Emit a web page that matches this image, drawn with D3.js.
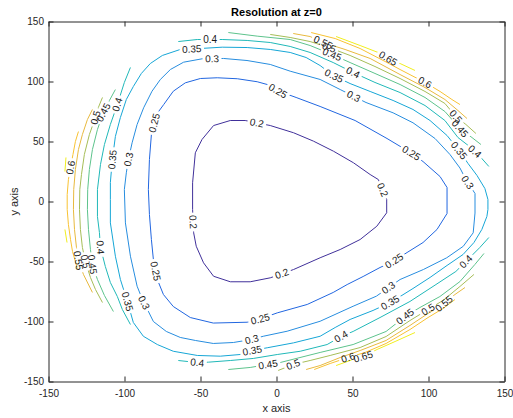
<!DOCTYPE html>
<html>
<head>
<meta charset="utf-8">
<script src="https://cdn.jsdelivr.net/npm/d3@7"></script>
<style>
  body { margin: 0; background: #fff; }
  svg text { font-family: "Liberation Sans", Arial, Helvetica, sans-serif; }
</style>
</head>
<body>
<svg id="chart" width="513" height="418"></svg>
<script>
// Contour levels of the resolution map
const levels = [0.2, 0.25, 0.3, 0.35, 0.4, 0.45, 0.5, 0.55, 0.6, 0.65];
const xTicks = [-150, -100, -50, 0, 50, 100, 150];
const yTicks = [-150, -100, -50, 0, 50, 100, 150];

// Contour polylines per level, points as [x, y] in axis units
const line020 = [[[-55.2,-6.7],[-55.2,15.6],[-53.4,40.6],[-49.0,51.7],[-41.4,63.3],[-30.4,67.5],[-20.6,67.5],[-4.1,63.3],[11.2,57.3],[24.3,50.3],[37.5,41.9],[50.6,32.3],[61.6,22.5],[67.0,18.3],[72.5,1.7],[72.5,-9.4],[66.0,-20.6],[55.0,-31.7],[41.9,-40.0],[28.7,-46.9],[11.2,-56.7],[-4.1,-63.6],[-17.3,-66.9],[-30.4,-66.9],[-41.4,-62.3],[-48.0,-51.1],[-52.8,-37.3],[-54.5,-26.1],[-55.2,-6.7]]];

const line025 = [[[-74.2,80.8],[-79.0,72.5],[-82.3,55.8],[-83.6,35.0],[-84.3,10.0],[-83.6,-10.8],[-82.3,-31.7],[-81.0,-48.3],[-78.4,-65.0],[-74.4,-77.5],[-67.9,-87.5],[-56.7,-96.7],[-41.6,-101.3],[-19.3,-100.6],[-10.7,-97.9],[0.5,-92.8],[20.2,-85.8],[37.3,-75.8],[46.5,-69.2],[57.0,-62.5],[68.1,-55.0],[76.7,-50.0],[85.9,-42.5],[96.4,-34.2],[105.6,-23.3],[112.2,-10.0],[112.2,11.7],[107.6,20.8],[96.4,33.3],[89.2,40.0],[72.7,52.5],[51.7,67.5],[28.7,79.2],[12.9,86.7],[1.1,92.1],[-6.1,97.5],[-12.7,99.8],[-25.8,102.3],[-39.0,103.1],[-50.1,102.5],[-60.0,98.9],[-67.9,91.9],[-74.2,80.8]]];

const line030 = [[[-91.7,64.2],[-87.4,78.1],[-81.9,91.9],[-76.4,101.7],[-69.8,110.0],[-61.1,116.1],[-49.0,118.9],[-34.8,119.2],[-19.4,117.5],[-4.1,114.2],[9.0,108.6],[28.7,101.7],[41.9,93.3],[58.9,82.5],[76.7,73.9],[89.8,65.6],[104.3,52.5],[114.1,39.2],[120.7,27.9],[125.3,16.7],[130.6,6.7],[130.6,-9.6],[129.4,-26.1],[122.9,-37.3],[112.0,-46.9],[96.6,-56.7],[81.3,-65.0],[65.7,-78.9],[50.4,-87.3],[28.7,-99.8],[7.0,-108.1],[-8.7,-112.3],[-16.6,-115.0],[-28.4,-117.5],[-41.6,-118.3],[-53.4,-115.8],[-63.3,-113.3],[-72.5,-108.3],[-81.0,-100.0],[-84.9,-90.0],[-88.2,-81.7],[-91.7,-70.6],[-96.1,-45.6],[-99.4,-17.8],[-100.1,10.0],[-98.8,23.9],[-97.4,35.0],[-95.0,48.9],[-91.7,64.2]]];

const line035 = [[[-109.3,1.7],[-109.3,15.8],[-108.0,35.0],[-106.0,54.2],[-102.7,70.0],[-98.8,85.0],[-94.2,95.8],[-88.9,106.7],[-83.0,115.0],[-75.1,121.7],[-63.3,126.7],[-55.4,127.1],[-35.7,128.6],[-19.3,128.3],[-4.1,126.7],[9.0,124.2],[19.5,120.0],[28.7,113.3],[37.3,105.0],[48.4,98.3],[61.6,91.7],[76.7,84.2],[89.8,76.7],[101.0,67.5],[112.2,55.0],[120.1,42.5],[126.0,31.7],[131.9,21.7],[137.1,10.8],[139.1,1.7],[139.1,-6.7],[138.4,-12.5],[135.1,-23.3],[129.9,-34.2],[122.7,-44.2],[112.2,-53.3],[101.0,-63.3],[89.8,-72.5],[81.3,-79.2],[74.7,-84.2],[63.5,-90.8],[48.4,-98.3],[38.6,-105.0],[28.7,-112.3],[11.2,-117.8],[-6.1,-121.9],[-16.0,-124.2],[-23.9,-127.5],[-37.0,-128.9],[-52.1,-128.3],[-67.9,-124.8],[-78.4,-119.2],[-87.6,-112.3],[-94.2,-100.8],[-98.1,-83.3],[-102.7,-65.0],[-106.0,-45.6],[-109.3,-17.8],[-109.3,1.7]]];

const line040 = [
  [[-64.6,133.3],[-52.1,135],[-43.6,135],[-35.7,135],[-19.3,134.2],[-4.1,132.5],[9.0,129.2],[22.1,124.2],[37.3,115.8],[50.4,107.5],[64.8,99.2],[81.3,90.8],[97.7,80],[110.8,67.5],[119.4,53.3],[125.3,47.5],[130.5,41.7],[135.1,35.8],[139.7,29.2]],
  [[-64.6,-132.5],[-52.1,-134.2],[-44.9,-133.9],[-30.4,-132.5],[-15.3,-130.8],[0.5,-127.5],[15.6,-124.8],[33.3,-119.2],[42.5,-112.5],[50.4,-108.3],[68.1,-96.7],[87.8,-83.3],[104.9,-69.2],[118.0,-58.3],[124.6,-50],[133.8,-38.3],[139.7,-30]],
  [[-96.1,111.7],[-100.1,99.2],[-104.7,80.8],[-109.3,64.2],[-113.2,47.5],[-115.8,30.8],[-117.8,10],[-117.8,-12.5],[-116.5,-25.8],[-115.8,-38.3],[-112.6,-54.2],[-109.3,-67.5],[-104.7,-79.2],[-101.4,-90],[-96.1,-102.5]]
];

const line045 = [
  [[-31.7,140.8],[-12.7,137.8],[9.0,135],[22.1,130],[36.6,122.5],[48.4,115.8],[64.8,106.7],[81.3,97.5],[97.7,86.7],[110.8,75],[120.7,60.8],[128.6,53.3],[134.5,47.5]],
  [[-31.7,-140],[-17.3,-138.3],[-5.5,-135.8],[2.4,-134.2],[28.7,-125.8],[50.4,-119.2],[72.1,-108.3],[84.6,-95.8],[94.4,-88.3],[107.5,-79.2],[120.7,-66.7],[130.5,-52.5],[136.5,-43.3]],
  [[-106,93.3],[-109.9,84.2],[-113.9,74.2],[-117.8,60],[-121.1,43.3],[-123.1,26.7],[-124.2,10],[-124.4,-6.7],[-123.7,-23.3],[-122.4,-40],[-121.1,-52.5],[-117.8,-65],[-113.2,-78.3],[-107.3,-91.7]]
];

const line050 = [
  [[-4.1,139.2],[9.0,136.7],[22.1,133.3],[34.6,128.3],[48.4,121.7],[64.8,112.5],[81.3,102.5],[97.7,91.7],[110.8,81.7],[118.0,70.8],[124.6,64.2],[131.2,56.7]],
  [[1.1,-140.8],[11.0,-135.8],[22.1,-132.5],[35.3,-128.3],[55.0,-121.7],[72.1,-112.5],[87.8,-99.2],[99.7,-90],[109.5,-82.5],[120.7,-70.8],[129.9,-60.8]],
  [[-114.5,86.7],[-117.2,78.3],[-119.1,70],[-123.1,55.8],[-126.4,39.2],[-128.3,22.5],[-129.4,10],[-129.6,-6.7],[-129.0,-23.3],[-127.7,-38.3],[-125.7,-50],[-122.4,-63.3],[-119.1,-73.3],[-114.5,-84.2]]
];

const line055 = [
  [[11.0,140],[22.1,137.5],[30.7,132.5],[45.1,126.7],[61.6,119.2],[81.3,105.8],[97.7,95],[110.8,85],[119.4,75.8],[125.3,69.2]],
  [[19.5,-140],[28.7,-136.7],[41.9,-130],[55.0,-124.2],[72.1,-115.8],[87.8,-103.3],[99.7,-93.3],[109.5,-85.8],[117.4,-77.5],[124.0,-71.7]],
  [[-121.1,76.7],[-124.4,68.3],[-127.7,55.8],[-130.3,43.3],[-132.3,26.7],[-133.4,10],[-133.6,-6.7],[-132.9,-23.3],[-131.6,-38.3],[-130.3,-49.2],[-127.0,-60.8],[-121.1,-75.8]]
];

const line060 = [
  [[22.8,140.8],[38.6,135.8],[55.0,127.5],[71.4,116.7],[81.3,110],[97.7,99.2],[107.6,91.7],[115.4,85],[120.7,80.8]],
  [[24.8,-140],[35.3,-135],[47.1,-130],[58.3,-125.8],[72.1,-118.3],[87.8,-106.7],[99.7,-96.7],[109.5,-89.2],[117.4,-81.7]],
  [[-130.3,58.3],[-132.3,50],[-133.9,39.2],[-135.5,28.3],[-136.9,18.3],[-137.7,5.8],[-137.7,-6.7],[-136.9,-19.2],[-135.5,-31.7],[-134.2,-41.7],[-132.3,-50],[-131.0,-56.7]]
];

const line065 = [
  [[39.2,137.5],[55.0,130],[66.8,124.2],[73.4,119.2],[81.3,115],[91.1,109.2]],
  [[39.2,-136.7],[48.4,-132.5],[57.0,-129.2],[66.2,-123.3],[78.0,-116.7],[91.1,-109.2]],
  [[-138.5,36.7],[-139.2,25]],
  [[-139.2,-23.3],[-137.8,-34.2]]
];

// Inline label anchors per level, [x, y] in axis units
const labels020 = [[-12.9,65.6],[70.3,10],[3.5,-60],[-56,-17.2]];
const labels025 = [[-76.4,64.2],[-79.7,-58.1],[-10.7,-97.9],[77.3,-49.2],[88.5,40],[1.1,92.5]];
const labels030 = [[-42.4,118.3],[50.4,86.7],[126.6,16.7],[74,-72.5],[-16.3,-115],[-86.9,-84.2],[-97.2,35]];
const labels035 = [[-55.7,126.7],[37.3,103.3],[120.1,42.5],[74.7,-84.2],[-16,-124.2],[-98.1,-83.3],[-108.4,35]];
const labels040 = [[-43.6,135],[50.4,107.5],[130.5,41.7],[124.6,-50],[42.5,-112.5],[-52.1,-134.2],[-115.8,-38.3],[-104.7,80.8]];
const labels045 = [[36.6,122.5],[120.7,60.8],[84.6,-95.8],[-5.5,-135.8],[-121.1,-52.5],[-113.9,74.2]];
const labels050 = [[34.6,128.3],[118,70.8],[99.7,-90],[11,-135.8],[-125.7,-50],[-119.1,70]];
const labels055 = [[30.7,132.5],[109.5,-84.2],[-130.3,-49.2]];
const labels060 = [[97.7,99.2],[47.1,-130],[-135.5,28.3]];
const labels065 = [[73.4,119.2],[57,-129.2]];

const contourLines = [line020, line025, line030, line035, line040, line045, line050, line055, line060, line065];
const contourLabels = [labels020, labels025, labels030, labels035, labels040, labels045, labels050, labels055, labels060, labels065];

// parula-like colours, one per level
const levelColors = ['#40309a', '#2166e0', '#278ddf', '#16a6d6', '#20b8b8', '#5dc38c', '#a6bd57', '#e8b93e', '#f8c232', '#f0ee1e'];

const W = 513, H = 418;
const x = d3.scaleLinear().domain([-150, 150]).range([48.5, 504.5]);
const y = d3.scaleLinear().domain([-150, 150]).range([381.5, 21.5]);

const svg = d3.select('#chart');
const defs = svg.append('defs');
const lineLayer = svg.append('g');
const labelLayer = svg.append('g');
const lineGen = d3.line().x(d => x(d[0])).y(d => y(d[1]));

// Nearest point on a level's polylines, with the local direction for the label
function placeOnLine(pt, segs) {
  const px = x(pt[0]), py = y(pt[1]);
  let best = Infinity, res = { px, py, ang: 0 };
  segs.forEach(seg => {
    for (let i = 0; i < seg.length - 1; i++) {
      const ax = x(seg[i][0]), ay = y(seg[i][1]);
      const bx = x(seg[i + 1][0]), by = y(seg[i + 1][1]);
      const dx = bx - ax, dy = by - ay;
      const L = dx * dx + dy * dy || 1;
      let t = ((px - ax) * dx + (py - ay) * dy) / L;
      t = Math.max(0, Math.min(1, t));
      const qx = ax + t * dx, qy = ay + t * dy;
      const d = (qx - px) ** 2 + (qy - py) ** 2;
      if (d < best) {
        best = d;
        let ang = Math.atan2(dy, dx) * 180 / Math.PI;
        if (ang > 90) ang -= 180;
        if (ang <= -90) ang += 180;
        res = { px: qx, py: qy, ang };
      }
    }
  });
  return res;
}

levels.forEach((lev, i) => {
  const mask = defs.append('mask')
    .attr('id', 'gap' + i)
    .attr('maskUnits', 'userSpaceOnUse')
    .attr('x', 0).attr('y', 0).attr('width', W).attr('height', H);
  mask.append('rect').attr('width', W).attr('height', H).attr('fill', '#fff');

  lineLayer.append('g')
    .attr('mask', `url(#gap${i})`)
    .selectAll('path')
    .data(contourLines[i])
    .join('path')
    .attr('d', lineGen)
    .attr('fill', 'none')
    .attr('stroke', levelColors[i])
    .attr('stroke-width', 1);

  contourLabels[i].forEach(p => {
    const s = placeOnLine(p, contourLines[i]);
    const tr = `translate(${s.px},${s.py}) rotate(${s.ang})`;
    const t = labelLayer.append('text')
      .attr('transform', tr)
      .attr('text-anchor', 'middle')
      .attr('dy', '0.35em')
      .attr('font-size', 10)
      .attr('fill', '#1a1a1a')
      .text(String(lev));
    const w = t.node().getComputedTextLength() + 5;
    mask.append('rect')
      .attr('x', -w / 2).attr('y', -6)
      .attr('width', w).attr('height', 12)
      .attr('transform', tr)
      .attr('fill', '#000');
  });
});

// Axes: box with inward ticks on all four sides
const axisColor = '#262626';
const fmt = d => String(d);
function styleAxis(g) {
  g.attr('font-family', '"Liberation Sans", Arial, Helvetica, sans-serif').attr('font-size', 10);
  g.selectAll('.domain').attr('stroke', axisColor);
  g.selectAll('.tick line').attr('stroke', axisColor);
  g.selectAll('.tick text').attr('fill', axisColor);
}
svg.append('g').attr('transform', `translate(0,${y(-150)})`)
  .call(d3.axisBottom(x).tickValues(xTicks).tickFormat(fmt).tickSizeInner(-5).tickSizeOuter(0).tickPadding(8))
  .call(styleAxis);
svg.append('g').attr('transform', `translate(0,${y(150)})`)
  .call(d3.axisTop(x).tickValues(xTicks).tickFormat('').tickSizeInner(-5).tickSizeOuter(0))
  .call(styleAxis);
svg.append('g').attr('transform', `translate(${x(-150)},0)`)
  .call(d3.axisLeft(y).tickValues(yTicks).tickFormat(fmt).tickSizeInner(-5).tickSizeOuter(0).tickPadding(4.5))
  .call(styleAxis);
svg.append('g').attr('transform', `translate(${x(150)},0)`)
  .call(d3.axisRight(y).tickValues(yTicks).tickFormat('').tickSizeInner(-5).tickSizeOuter(0))
  .call(styleAxis);

// Title and axis titles
svg.append('text')
  .attr('x', (x(-150) + x(150)) / 2).attr('y', 16)
  .attr('text-anchor', 'middle').attr('font-size', 11).attr('font-weight', 'bold')
  .attr('fill', '#000')
  .text('Resolution at z=0');
svg.append('text')
  .attr('x', (x(-150) + x(150)) / 2).attr('y', 412)
  .attr('text-anchor', 'middle').attr('font-size', 11)
  .attr('fill', axisColor)
  .text('x axis');
svg.append('text')
  .attr('transform', `translate(18,${(y(-150) + y(150)) / 2}) rotate(-90)`)
  .attr('text-anchor', 'middle').attr('font-size', 11)
  .attr('fill', axisColor)
  .text('y axis');
</script>
</body>
</html>
